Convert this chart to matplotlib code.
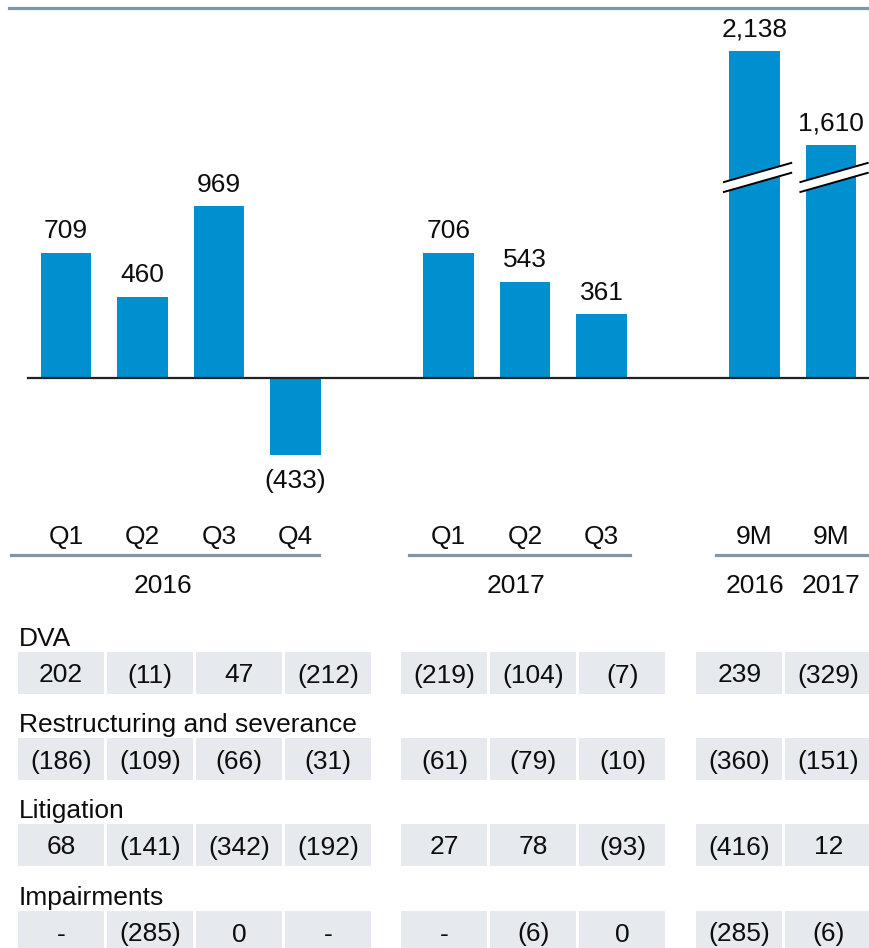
import matplotlib
matplotlib.use('Agg')
import matplotlib.pyplot as plt
from matplotlib.patches import Rectangle, Polygon
from matplotlib.transforms import blended_transform_factory

plt.rcParams['font.family'] = ['Liberation Sans', 'DejaVu Sans']

# data
periods = ['Q1', 'Q2', 'Q3', 'Q4', 'Q1', 'Q2', 'Q3', '9M', '9M']
positions = [0, 1, 2, 3, 5, 6, 7, 9, 10]
net_values = [709, 460, 969, -433, 706, 543, 361, 2138, 1610]
broken = [False, False, False, False, False, False, False, True, True]
quarter_years = ['2016', '2017']
nine_month_years = ['2016', '2017']

row_names = ['DVA', 'Restructuring and severance', 'Litigation', 'Impairments']
dva = [202, -11, 47, -212, -219, -104, -7, 239, -329]
restructuring = [-186, -109, -66, -31, -61, -79, -10, -360, -151]
litigation = [68, -141, -342, -192, 27, 78, -93, -416, 12]
impairments = [None, -285, 0, None, None, -6, 0, -285, -6]
table_rows = [dva, restructuring, litigation, impairments]

BLUE = '#0090D0'
LINE = '#7F96A8'
BOX = '#E6E9EE'
TXT = '#0d0d0d'
FS = 19
CUT = 292          # amount removed from the broken 9M bars
PX = 0.177         # pixels per unit

fig = plt.figure(figsize=(8.7, 9.48), dpi=100)
ax = fig.add_axes([0, 0, 1, 1])
ov = fig.add_axes([0, 0, 1, 1])
ov.set_xlim(0, 870)
ov.set_ylim(948, 0)
ov.patch.set_alpha(0)
ov.axis('off')

ax.set_xlim(-66 / 76.5, (870 - 66) / 76.5)
ax.set_ylim(-(948 - 378) / PX, 378 / PX)
ax.axis('off')


def fmt(v):
    if v is None:
        return '-'
    if v < 0:
        return '({:,})'.format(-v)
    return '{:,}'.format(v)


shown = [v - CUT if b else v for v, b in zip(net_values, broken)]
bars = ax.bar(positions, shown, width=0.66, color=BLUE, zorder=2)
ax.axhline(0, xmin=28 / 870, xmax=1, color='#222222', lw=1.6, zorder=3)

for b, v in zip(bars, net_values):
    x = b.get_x() + b.get_width() / 2
    if v >= 0:
        ax.annotate(fmt(v), (x, b.get_height()), xytext=(0, 10.5), textcoords='offset points',
                    ha='center', va='baseline', fontsize=FS, color=TXT)
    else:
        ax.annotate(fmt(v), (x, b.get_height()), xytext=(0, -10), textcoords='offset points',
                    ha='center', va='top', fontsize=FS, color=TXT)

# break marks on the 9M bars
for p, b in zip(positions, broken):
    if not b:
        continue
    x0, x1 = p - 0.40, p + 0.48
    lo, rise, gap = 1051, 108, 56
    ax.add_patch(Polygon([(x0, lo), (x1, lo + rise), (x1, lo + rise + gap), (x0, lo + gap)],
                         closed=True, facecolor='white', edgecolor='none', zorder=4))
    ax.plot([x0, x1], [lo, lo + rise], color='black', lw=1.4, zorder=5)
    ax.plot([x0, x1], [lo + gap, lo + rise + gap], color='black', lw=1.4, zorder=5)

# top rule
ov.plot([9, 870], [7.5, 7.5], color=LINE, lw=2.3)

# category labels
tr = blended_transform_factory(ax.transData, ov.transData)
for p, lab in zip(positions, periods):
    ov.text(p, 544, lab, transform=tr, ha='center', va='baseline', fontsize=FS, color=TXT)
for xs in [(11, 319), (409, 630), (716, 870)]:
    ov.plot(xs, [555, 555], color=LINE, lw=2.3)
ov.text(163, 593, quarter_years[0], ha='center', va='baseline', fontsize=FS, color=TXT)
ov.text(516, 593, quarter_years[1], ha='center', va='baseline', fontsize=FS, color=TXT)
for p, lab in zip(positions[-2:], nine_month_years):
    ov.text(p, 593, lab, transform=tr, ha='center', va='baseline', fontsize=FS, color=TXT)

# table of items
col_x = [61, 150, 239, 328, 444.5, 533.5, 622.5, 739.5, 828.5]
row_top = [652, 738, 824, 911]
box_w, box_h = 86, 42
for name, vals, top in zip(row_names, table_rows, row_top):
    ov.text(19, top - 6, name, ha='left', va='baseline', fontsize=FS, color=TXT)
    for cx, v in zip(col_x, vals):
        ov.add_patch(Rectangle((cx - box_w / 2, top), box_w, box_h, facecolor=BOX, edgecolor='none'))
        ov.text(cx, top + box_h / 2 + 9.5, fmt(v), ha='center', va='baseline', fontsize=FS, color=TXT)

fig.savefig('out.png', dpi=100)
